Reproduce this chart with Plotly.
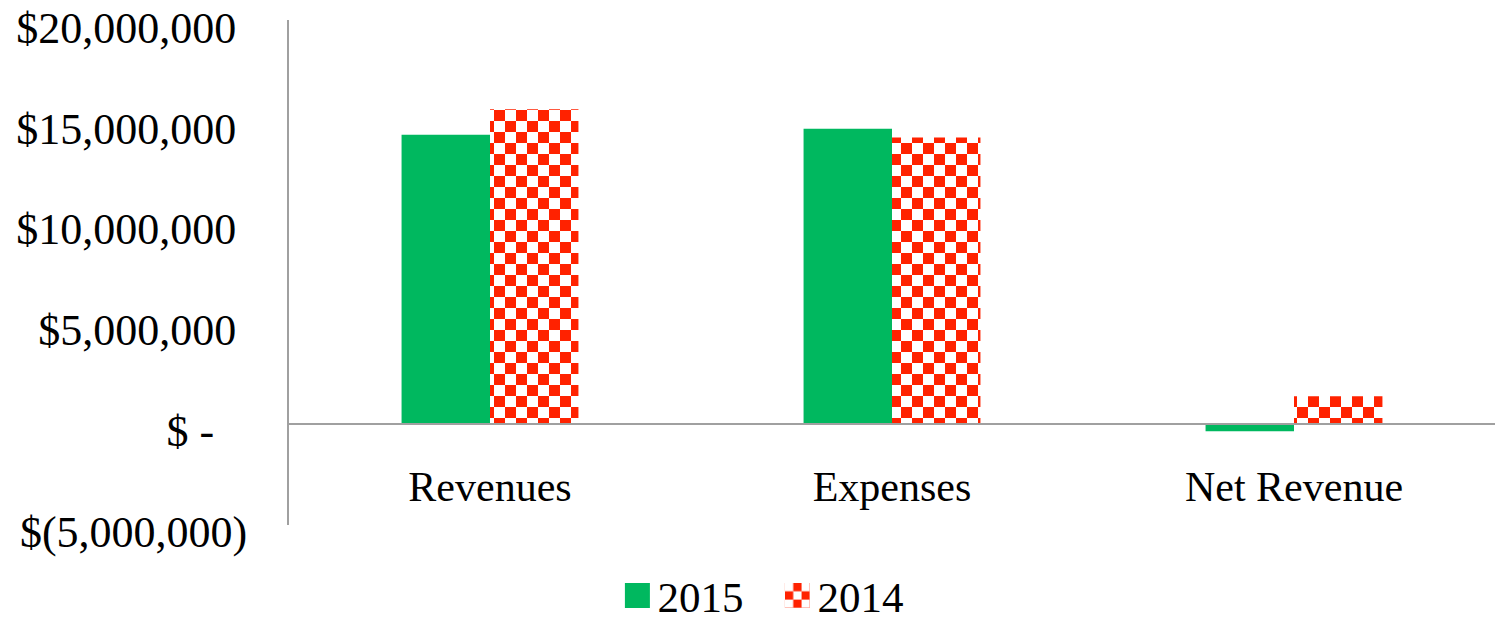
import plotly.graph_objects as go

categories = ["Revenues", "Expenses", "Net Revenue"]
values_2015 = [14330000, 14630000, -370000]
values_2014 = [15600000, 14200000, 1370000]
tick_vals = [20000000, 15000000, 10000000, 5000000, 0, -5000000]
tick_text = ["$20,000,000\u00a0", "$15,000,000\u00a0", "$10,000,000\u00a0",
             "$5,000,000\u00a0", "$ -\u00a0\u00a0\u00a0", "$(5,000,000)"]

GREEN = "#00B85F"
RED = "#FF2200"
FONT = "Liberation Serif"

fig = go.Figure()
fig.add_trace(go.Bar(name="2015", x=categories, y=values_2015,
                     marker=dict(color=GREEN, line=dict(width=0))))
fig.add_trace(go.Bar(name="2014", x=categories, y=values_2014,
                     marker=dict(color=RED, line=dict(width=0))))

fig.update_layout(
    width=1495, height=630,
    margin=dict(l=289, r=0, t=20, b=105, autoexpand=False),
    paper_bgcolor="white", plot_bgcolor="white",
    barmode="group", bargap=0.56, bargroupgap=0,
    font=dict(family=FONT, size=42, color="black"),
    showlegend=True,
    legend=dict(orientation="h", xref="container", yref="container",
                x=0.52, xanchor="center", y=0.0, yanchor="bottom",
                entrywidth=115, entrywidthmode="pixels",
                font=dict(family=FONT, size=43, color="black"),
                traceorder="normal"),
    xaxis=dict(anchor="free", position=0.2, showline=True, linecolor="#a0a0a0",
               linewidth=2, showgrid=False, ticks="", ticklabelstandoff=26,
               automargin=False, tickfont=dict(family=FONT, size=42)),
    yaxis=dict(range=[-5020000, 20020000], tickvals=tick_vals, ticktext=tick_text,
               showline=True, linecolor="#a0a0a0", linewidth=2, showgrid=False,
               zeroline=False, ticks="", ticklabelstandoff=31, ticklabelshift=7,
               automargin=False, ticklabeloverflow="allow",
               tickfont=dict(family=FONT, size=44)),
)

post_js = """
document.body.style.margin = '0';
document.body.style.padding = '0';
var gd = document.getElementById('{plot_id}');
function applyChecker(){
  var ns = 'http://www.w3.org/2000/svg';
  var svg = gd.querySelector('svg.main-svg');
  if(!svg) return;
  var defs = svg.querySelector('defs');
  if(!defs){ defs = document.createElementNS(ns,'defs'); svg.insertBefore(defs, svg.firstChild); }
  function mk(id, cell, ox, oy, inv){
    if(document.getElementById(id)) return;
    var p = document.createElementNS(ns,'pattern');
    p.setAttribute('id', id);
    p.setAttribute('patternUnits','userSpaceOnUse');
    p.setAttribute('width', 2*cell); p.setAttribute('height', 2*cell);
    p.setAttribute('x', ox); p.setAttribute('y', oy);
    var bg = document.createElementNS(ns,'rect');
    bg.setAttribute('width', 2*cell); bg.setAttribute('height', 2*cell); bg.setAttribute('fill','#ffffff');
    p.appendChild(bg);
    var pos = inv ? [[cell,0],[0,cell]] : [[0,0],[cell,cell]];
    pos.forEach(function(q){
      var r = document.createElementNS(ns,'rect');
      r.setAttribute('x', q[0]); r.setAttribute('y', q[1]);
      r.setAttribute('width', cell); r.setAttribute('height', cell);
      r.setAttribute('fill', '""" + RED + """');
      p.appendChild(r);
    });
    defs.appendChild(p);
  }
  mk('checkerBar', 11, 7, 2, false);
  mk('checkerLeg', 25/3, -12.5, -12.5, true);
  var traces = gd.querySelectorAll('.barlayer .trace');
  if(traces.length > 1){
    traces[1].querySelectorAll('path').forEach(function(pt){ pt.style.fill = 'url(#checkerBar)'; });
  }
  var leg = gd.querySelectorAll('.legend .traces');
  leg.forEach(function(t, i){
    t.querySelectorAll('.legendpoints path').forEach(function(pt){
      pt.setAttribute('d','M12.5,12.5H-12.5V-12.5H12.5Z');
      if(i === 1){ pt.style.fill = 'url(#checkerLeg)'; }
    });
  });
}
applyChecker();
gd.on('plotly_afterplot', applyChecker);
"""

fig.write_html("out.html", post_script=post_js, config={"displayModeBar": False})
